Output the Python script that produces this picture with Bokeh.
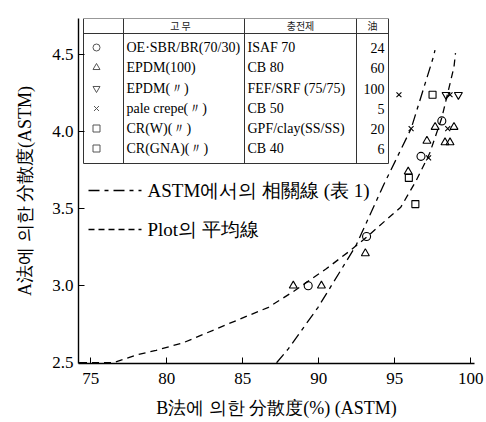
from bokeh.plotting import figure
from bokeh.models import FixedTicker, PrintfTickFormatter
from bokeh.core.properties import value
from bokeh.embed import file_html
from bokeh.resources import INLINE

# ---------------- data ----------------
x_ticks = [75, 80, 85, 90, 95, 100]
y_ticks = [2.5, 3.0, 3.5, 4.0, 4.5]

circ_x = [98.1, 96.73, 93.15, 89.31]
circ_y = [4.07, 3.84, 3.32, 3.00]

tri_x = [97.66, 98.9, 97.12, 98.31, 98.64, 95.89, 93.07, 88.33, 90.18]
tri_y = [4.03, 4.03, 3.94, 3.93, 3.93, 3.74, 3.21, 3.00, 3.00]

itri_x = [98.38, 99.19]
itri_y = [4.24, 4.24]

cross_x = [95.28, 98.64, 98.49, 97.23, 96.08]
cross_y = [4.24, 4.24, 4.02, 3.83, 4.02]

sq_x = [97.49, 95.93, 96.36]
sq_y = [4.24, 3.70, 3.53]

astm_x = [87.23, 88.0, 89.96, 92.45, 94.3, 96.08, 97.56, 97.65]
astm_y = [2.50, 2.59, 2.86, 3.26, 3.66, 4.02, 4.49, 4.53]

avg_x = [74.3, 76.5, 78.0, 79.3, 81.1, 84.0, 86.7, 88.3, 90.5, 92.1, 93.2, 95.4, 96.4, 97.3, 98.1, 98.9, 99.0]
avg_y = [2.50, 2.50, 2.55, 2.58, 2.63, 2.75, 2.86, 2.96, 3.11, 3.23, 3.32, 3.51, 3.68, 3.86, 4.09, 4.42, 4.51]

table_header = ["고 무", "충전제", "油"]
rubber = ["OE·SBR/BR(70/30)", "EPDM(100)", "EPDM(〃)", "pale crepe(〃)", "CR(W)(〃)", "CR(GNA)(〃)"]
filler = ["ISAF 70", "CB 80", "FEF/SRF (75/75)", "CB 50", "GPF/clay(SS/SS)", "CB 40"]
oil = ["24", "60", "100", "5", "20", "6"]
marker_types = ["circle", "triangle", "inverted_triangle", "x", "square", "square"]

legend_labels = ["ASTM에서의 相關線 (表 1)", "Plot의 平均線"]

x_label = "B法에 의한 分散度(%) (ASTM)"
y_label = "A法에 의한 分散度(ASTM)"

# ---------------- layout helpers ----------------
W, H = 484, 422
XR = (74.2, 100.25)
YR = (2.495, 4.735)
FL, FR, FT, FB = 78, 474, 18, 363  # frame edges (figure pixels)


def px(v):
    return XR[0] + (v - FL) / (FR - FL) * (XR[1] - XR[0])


def py(v):
    return YR[1] - (v - FT) / (FB - FT) * (YR[1] - YR[0])


SERIF = "Liberation Serif"

p = figure(width=W, height=H, x_range=XR, y_range=YR,
           output_backend="svg", toolbar_location=None,
           min_border_left=FL, min_border_right=W - FR,
           min_border_top=FT, min_border_bottom=H - FB)
p.outline_line_color = None
p.xgrid.visible = False
p.ygrid.visible = False
p.background_fill_color = "white"
p.border_fill_color = "white"

for ax in (p.xaxis[0], p.yaxis[0]):
    ax.major_tick_in = 6
    ax.major_tick_out = 0
    ax.minor_tick_line_color = None
    ax.axis_line_width = 1.4
    ax.axis_line_color = "black"
    ax.major_tick_line_color = "black"
    ax.major_label_text_font = SERIF
    ax.major_label_text_font_size = "17px"
    ax.major_label_text_color = "black"
    ax.axis_label_text_font = SERIF
    ax.axis_label_text_font_size = "18px"
    ax.axis_label_text_font_style = "normal"
    ax.axis_label_text_color = "black"

p.xaxis.ticker = FixedTicker(ticks=x_ticks)
p.yaxis.ticker = FixedTicker(ticks=y_ticks)
p.yaxis.formatter = PrintfTickFormatter(format="%.1f")
p.xaxis.axis_label = x_label
p.yaxis.axis_label = y_label
p.xaxis.major_label_standoff = 9
p.xaxis.axis_label_standoff = 11
p.yaxis.major_label_standoff = 5
p.yaxis.axis_label_standoff = 14

# ---------------- curves ----------------
p.line(astm_x, astm_y, line_color="black", line_width=1.3, line_dash="11 5 4 5")
p.line(avg_x, avg_y, line_color="black", line_width=1.3, line_dash="7 5")

# ---------------- markers ----------------
mk = dict(fill_color=None, line_color="black", line_width=1.1)
p.scatter(circ_x, circ_y, marker="circle", size=8, **mk)
p.scatter(tri_x, tri_y, marker="triangle", size=8, **mk)
p.scatter(itri_x, itri_y, marker="inverted_triangle", size=8, **mk)
p.scatter(cross_x, cross_y, marker="x", size=7, **mk)
p.scatter(sq_x, sq_y, marker="square", size=7, **mk)

# ---------------- table (legend box) ----------------
T_L, T_R, T_T, T_B = 83, 388, 18, 163
T_H = 33
C1, C2, C3 = 123, 244, 356
p.quad(left=[px(T_L)], right=[px(T_R)], top=[py(T_T)], bottom=[py(T_B)],
       fill_color="white", line_color="#333333", line_width=1)
p.segment(x0=[px(T_L), px(C1), px(C2), px(C3)],
          y0=[py(T_H), py(T_T), py(T_T), py(T_T)],
          x1=[px(T_R), px(C1), px(C2), px(C3)],
          y1=[py(T_H), py(T_B), py(T_B), py(T_B)],
          line_color="#333333", line_width=1)

row_y = [47, 67, 88, 108, 128, 148]
p.text(x=[px(180), px(300), px(372)], y=[py(25)] * 3, text=table_header,
       text_font=value("Noto Sans CJK KR"), text_font_size="10px",
       text_align="center", text_baseline="middle", text_color="#222222")
p.text(x=[px(126)] * 6, y=[py(v) for v in row_y], text=rubber,
       text_font=value(SERIF), text_font_size="14px",
       text_align="left", text_baseline="middle", text_color="black")
p.text(x=[px(247)] * 6, y=[py(v) for v in row_y], text=filler,
       text_font=value(SERIF), text_font_size="14px",
       text_align="left", text_baseline="middle", text_color="black")
p.text(x=[px(384)] * 6, y=[py(v) for v in row_y], text=oil,
       text_font=value(SERIF), text_font_size="14px",
       text_align="right", text_baseline="middle", text_color="black")
for m, yy in zip(marker_types, row_y):
    p.scatter([px(96)], [py(yy)], marker=m, size=7, fill_color=None,
              line_color="#555555", line_width=1)

# ---------------- legend for lines ----------------
p.line([px(88), px(141)], [py(190)] * 2, line_color="black", line_width=1.3,
       line_dash="11 5 4 5")
p.line([px(88), px(141)], [py(229)] * 2, line_color="black", line_width=1.3,
       line_dash="6 4")
p.text(x=[px(147), px(147)], y=[py(190), py(229)], text=legend_labels,
       text_font=value(SERIF), text_font_size="19px",
       text_align="left", text_baseline="middle", text_color="black")

open("out.html", "w").write(file_html(p, INLINE))
